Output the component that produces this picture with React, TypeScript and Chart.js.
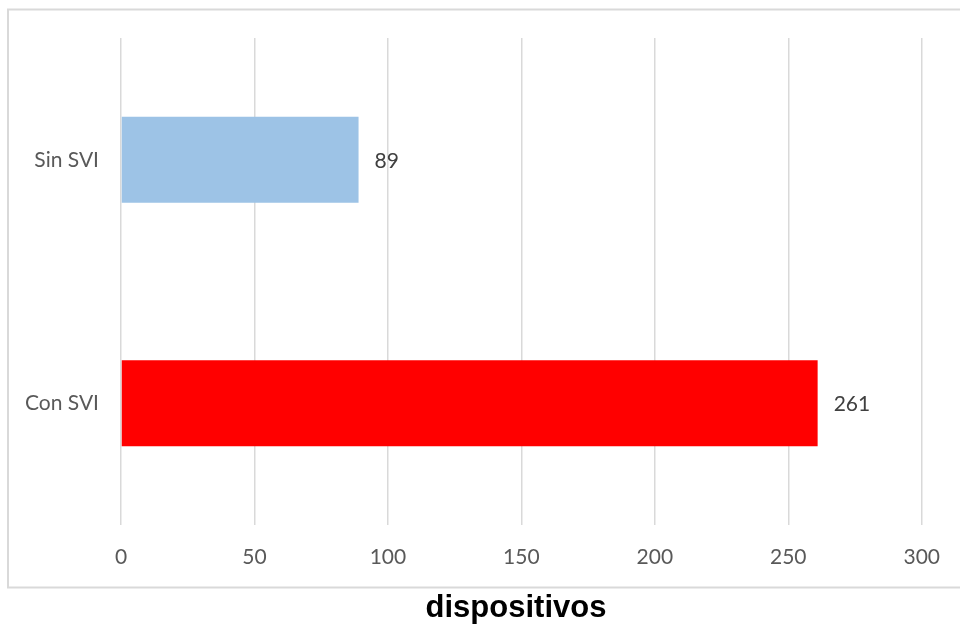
import React, { useEffect, useRef } from "react";
import { Chart, registerables } from "chart.js";

Chart.register(...registerables);

const categories = ["Con SVI", "Sin SVI"];
const values = [261, 89];
const barColors = ["#FF0000", "#9DC3E6"];
const axisTitle = "dispositivos";
const xMin = 0;
const xMax = 300;
const xStep = 50;

const FONT = "Lato, 'Open Sans', sans-serif";

const frameAndLabels = {
  id: "frameAndLabels",
  beforeDraw(chart: any) {
    const ctx = chart.ctx;
    ctx.save();
    ctx.fillStyle = "#ffffff";
    ctx.fillRect(0, 0, chart.width, chart.height);
    ctx.strokeStyle = "#d9d9d9";
    ctx.lineWidth = 2;
    ctx.strokeRect(8, 9.5, 960, 578);
    ctx.restore();
  },
  afterDatasetsDraw(chart: any) {
    const ctx = chart.ctx;
    const meta = chart.getDatasetMeta(0);
    ctx.save();
    ctx.fillStyle = "#404040";
    ctx.font = `21px ${FONT}`;
    ctx.textAlign = "left";
    ctx.textBaseline = "middle";
    meta.data.forEach((bar: any, i: number) => {
      ctx.fillText(String(values[i]), bar.x + 16, bar.y + 1);
    });
    ctx.restore();
  },
  afterDraw(chart: any) {
    const ctx = chart.ctx;
    ctx.save();
    ctx.fillStyle = "#000000";
    ctx.font = `bold 31px 'Liberation Sans', Arial, sans-serif`;
    ctx.textAlign = "center";
    ctx.textBaseline = "middle";
    ctx.fillText(axisTitle, 516, 608);
    ctx.restore();
  },
};

export default function App() {
  const ref = useRef<HTMLCanvasElement | null>(null);
  useEffect(() => {
    if (!ref.current) return;
    const chart = new Chart(ref.current, {
      type: "bar",
      data: {
        labels: categories,
        datasets: [
          {
            data: values,
            backgroundColor: barColors,
            borderWidth: 0,
            categoryPercentage: 1,
            barPercentage: 0.353,
          },
        ],
      },
      options: {
        indexAxis: "y",
        animation: false,
        responsive: false,
        maintainAspectRatio: false,
        layout: { padding: { top: 38, right: 37, left: 0, bottom: 35.6 } },
        plugins: {
          legend: { display: false },
          tooltip: { enabled: false },
          title: { display: false },
        },
        scales: {
          x: {
            min: xMin,
            max: xMax,
            ticks: {
              stepSize: xStep,
              color: "#595959",
              font: { family: FONT, size: 21 },
              padding: 20,
            },
            grid: { color: "#d9d9d9", lineWidth: 1.5, drawTicks: false },
            border: { display: false },
            afterFit: (s: any) => {
              s.height = 66.4;
            },
          },
          y: {
            reverse: true,
            ticks: {
              color: "#595959",
              font: { family: FONT, size: 21 },
              padding: 22,
            },
            grid: { display: false, drawTicks: false },
            border: { display: false },
            afterFit: (s: any) => {
              s.width = 121;
            },
          },
        },
      },
      plugins: [frameAndLabels],
    });
    return () => chart.destroy();
  }, []);
  return (
    <div style={{ position: "absolute", left: 0, top: 0, width: 960, height: 627 }}>
      <canvas ref={ref} width={960} height={627} style={{ display: "block" }} />
    </div>
  );
}
